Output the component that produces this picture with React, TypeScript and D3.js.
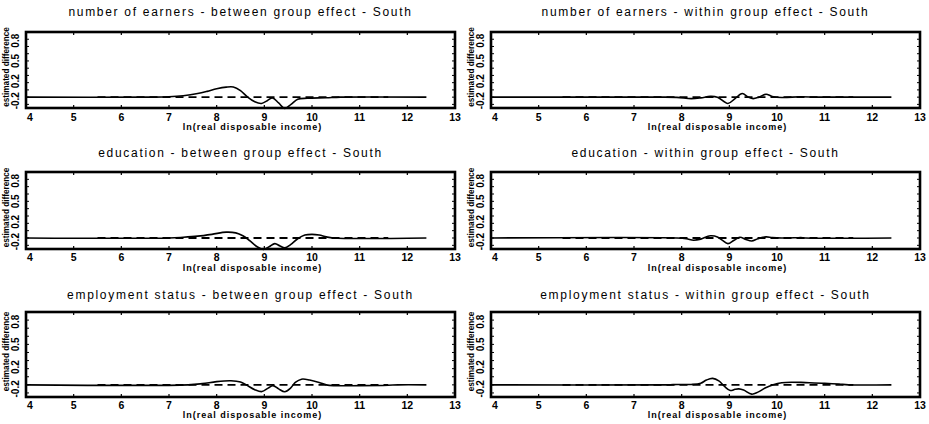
import React from "react";
import * as d3 from "d3";

// ---------- data ----------
const titles = [
  "number of earners - between group effect - South",
  "number of earners - within group effect - South",
  "education - between group effect - South",
  "education - within group effect - South",
  "employment status - between group effect - South",
  "employment status - within group effect - South",
];

const xTicks = [4, 5, 6, 7, 8, 9, 10, 11, 12, 13];
const xTickLabels = ["4", "5", "6", "7", "8", "9", "10", "11", "12", "13"];
const yTickAt = [-0.05, 0.22, 0.5, 0.78];
const yTickLabels = ["-0.2", "0.2", "0.5", "0.8"];
const yMinor = [-0.1, 0.0, 0.1, 0.2, 0.3, 0.4, 0.5, 0.6, 0.7, 0.8];
const xTitle = "ln(real disposable income)";
const yTitle = "estimated difference";
const refSpan = [5.5, 11.6];

const earnBetweenX = [4, 6.6, 7.0, 7.3, 7.6, 7.8, 8.0, 8.2, 8.35, 8.5, 8.65, 8.8, 8.94, 9.06, 9.17, 9.3, 9.43, 9.56, 9.7, 9.9, 10.3, 10.6, 12.4];
const earnBetweenY = [0, 0, 0.005, 0.02, 0.05, 0.08, 0.115, 0.138, 0.14, 0.09, 0.0, -0.065, -0.087, -0.05, -0.01, -0.08, -0.155, -0.1, -0.03, -0.015, -0.008, 0, 0];

const earnWithinX = [4, 7.5, 7.9, 8.2, 8.4, 8.6, 8.75, 8.97, 9.12, 9.27, 9.4, 9.5, 9.62, 9.77, 9.9, 10.1, 10.5, 10.8, 11.0, 12.4];
const earnWithinY = [0, 0, -0.003, -0.02, -0.01, 0.01, 0.0, -0.087, -0.02, 0.05, 0.0, -0.02, 0.0, 0.04, 0.01, -0.005, 0.005, 0, 0, 0];

const eduBetweenX = [4, 7.0, 7.3, 7.6, 7.9, 8.2, 8.4, 8.55, 8.7, 8.85, 8.98, 9.1, 9.22, 9.33, 9.43, 9.55, 9.7, 9.85, 10.0, 10.15, 10.3, 10.45, 12.4];
const eduBetweenY = [0, 0, 0.01, 0.025, 0.05, 0.08, 0.07, 0.03, -0.04, -0.12, -0.155, -0.12, -0.077, -0.11, -0.135, -0.09, -0.01, 0.04, 0.05, 0.04, 0.015, 0, 0];

const eduWithinX = [4, 7.9, 8.1, 8.25, 8.4, 8.6, 8.75, 8.85, 8.97, 9.1, 9.22, 9.35, 9.47, 9.6, 9.77, 9.9, 10.1, 10.4, 10.5, 10.6, 12.4];
const eduWithinY = [0, 0, -0.01, -0.03, -0.015, 0.03, 0.015, -0.03, -0.077, -0.03, 0.01, -0.02, -0.04, -0.01, 0.015, 0.005, 0, 0.003, 0.005, 0, 0];

const empBetweenX = [4, 7.4, 7.7, 8.0, 8.3, 8.5, 8.62, 8.8, 8.95, 9.08, 9.18, 9.3, 9.43, 9.55, 9.65, 9.78, 9.95, 10.15, 10.3, 10.45, 11.0, 11.6, 11.8, 12.4];
const empBetweenY = [0, 0, 0.015, 0.04, 0.05, 0.035, 0.0, -0.06, -0.083, -0.04, -0.01, -0.05, -0.085, -0.04, 0.03, 0.07, 0.06, 0.03, 0.0, -0.01, -0.01, -0.005, 0, 0];

const empWithinX = [4, 7.7, 7.9, 8.2, 8.4, 8.52, 8.65, 8.78, 8.9, 9.02, 9.12, 9.2, 9.3, 9.47, 9.6, 9.75, 9.92, 10.1, 10.3, 10.6, 11.0, 11.3, 11.5, 12.4];
const empWithinY = [0, 0, 0.005, 0.005, 0.02, 0.06, 0.08, 0.05, -0.02, -0.07, -0.055, -0.05, -0.065, -0.115, -0.09, -0.04, 0.0, 0.025, 0.033, 0.028, 0.02, 0.01, 0, 0];

const seriesX = [earnBetweenX, earnWithinX, eduBetweenX, eduWithinX, empBetweenX, empWithinX];
const seriesY = [earnBetweenY, earnWithinY, eduBetweenY, eduWithinY, empBetweenY, empWithinY];

// ---------- layout ----------
const W = 929;
const H = 424;
const colLeft = [26, 491];
const plotW = 429;
const rows = [
  { top: 32, bottom: 108, title: 12, tick: 117, xt: 127 },
  { top: 172, bottom: 249, title: 153, tick: 257, xt: 268 },
  { top: 312, bottom: 397, title: 295, tick: 405, xt: 415 },
];
const FONT = "'Liberation Sans', Arial, sans-serif";

function Panel({ idx }: { idx: number }) {
  const col = idx % 2;
  const row = rows[Math.floor(idx / 2)];
  const left = colLeft[col];
  const x = d3.scaleLinear().domain([4, 13]).range([left, left + plotW]);
  const y = d3.scaleLinear().domain([-0.15, 0.9]).range([row.bottom, row.top]);
  const xs = seriesX[idx];
  const ys = seriesY[idx];
  const pts: [number, number][] = xs.map((v, i) => [v, ys[i]]);
  const line = d3
    .line<[number, number]>()
    .x((d) => x(d[0]))
    .y((d) => y(d[1]))
    .curve(d3.curveCatmullRom.alpha(0.5));
  const refLine = d3
    .line<number>()
    .x((d) => x(d))
    .y(() => y(0));
  const cx = left + plotW / 2;
  return (
    <g>
      <text
        x={cx}
        y={row.title + 4}
        textAnchor="middle"
        fontFamily={FONT}
        fontSize={12}
        letterSpacing={1.7}
        fill="#000"
      >
        {titles[idx]}
      </text>
      {xTicks.map((t) => (
        <g key={"xt" + t}>
          <line x1={x(t)} x2={x(t)} y1={row.top} y2={row.top + 3} stroke="#000" strokeWidth={1.2} />
          <line x1={x(t)} x2={x(t)} y1={row.bottom} y2={row.bottom - 3} stroke="#000" strokeWidth={1.2} />
        </g>
      ))}
      {yMinor.map((t) => (
        <g key={"ym" + t}>
          <line x1={left} x2={left + 3} y1={y(t)} y2={y(t)} stroke="#000" strokeWidth={1} />
          <line x1={left + plotW} x2={left + plotW - 3} y1={y(t)} y2={y(t)} stroke="#000" strokeWidth={1} />
        </g>
      ))}
      {xTicks.map((t, i) => (
        <text
          key={"xl" + t}
          x={i === 0 ? x(t) + 1 : x(t)}
          y={row.tick + 4}
          textAnchor={i === 0 ? "start" : "middle"}
          fontFamily={FONT}
          fontWeight="bold"
          fontSize={10.5}
          fill="#000"
        >
          {xTickLabels[i]}
        </text>
      ))}
      {yTickAt.map((t, i) => (
        <text
          key={"yl" + i}
          transform={`translate(${left - 11},${y(t)}) rotate(-90)`}
          textAnchor="middle"
          dominantBaseline="central"
          fontFamily={FONT}
          fontWeight="bold"
          fontSize={10}
          fill="#000"
        >
          {yTickLabels[i]}
        </text>
      ))}
      <text
        transform={`translate(${left - 20},${(row.top + row.bottom) / 2 - 3}) rotate(-90)`}
        textAnchor="middle"
        dominantBaseline="central"
        fontFamily={FONT}
        fontWeight="bold"
        fontSize={8.2}
        fill="#000"
      >
        {yTitle}
      </text>
      <text
        x={cx + 12}
        y={row.xt + 3}
        textAnchor="middle"
        fontFamily={FONT}
        fontWeight="bold"
        fontSize={9}
        letterSpacing={1}
        fill="#000"
      >
        {xTitle}
      </text>
      <path d={refLine(refSpan) || ""} fill="none" stroke="#000" strokeWidth={1.8} strokeDasharray="8 5" />
      <path d={line(pts) || ""} fill="none" stroke="#000" strokeWidth={1.6} />
      <rect
        x={left}
        y={row.top}
        width={plotW}
        height={row.bottom - row.top}
        fill="none"
        stroke="#000"
        strokeWidth={2.6}
      />
    </g>
  );
}

export default function App() {
  return (
    <svg
      width={W}
      height={H}
      style={{ position: "absolute", left: 0, top: 0, background: "#fff" }}
    >
      <rect x={0} y={0} width={W} height={H} fill="#fff" />
      {titles.map((_, i) => (
        <Panel key={i} idx={i} />
      ))}
    </svg>
  );
}
